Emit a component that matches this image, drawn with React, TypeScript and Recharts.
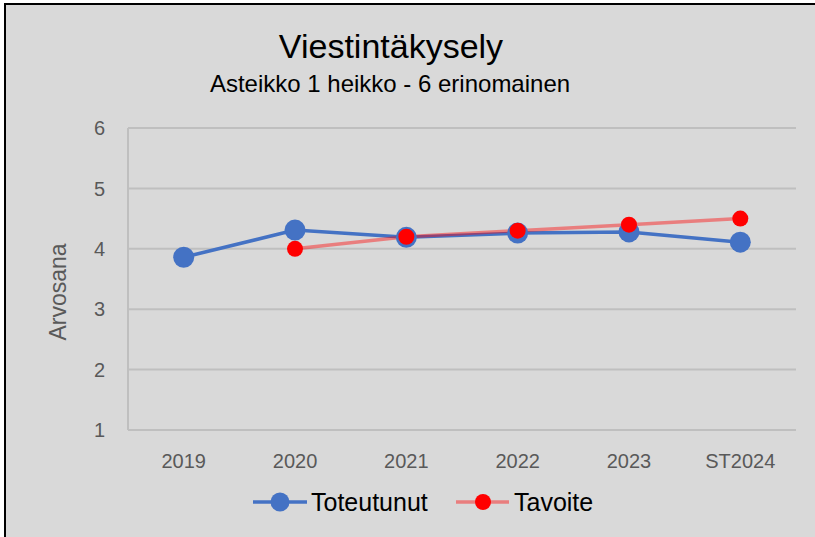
import React from 'react';
import { LineChart, Line, XAxis, YAxis, CartesianGrid, Legend } from 'recharts';

const categories = ['2019', '2020', '2021', '2022', '2023', 'ST2024'];
const toteutunut = [3.86, 4.31, 4.19, 4.26, 4.28, 4.11];
const tavoite: (number | null)[] = [null, 4.0, 4.2, 4.3, 4.4, 4.5];
const yTicks = [1, 2, 3, 4, 5, 6];

const data = categories.map((c, i) => ({ name: c, Toteutunut: toteutunut[i], Tavoite: tavoite[i] }));

const FONT = '"Liberation Sans", Arial, sans-serif';
const BLUE = '#4472C4';
const RED = '#FF0000';
const GRID = '#BFBFBF';
const TICK = '#595959';

const LegendContent = () => (
  <svg width={815} height={30} style={{ display: 'block' }}>
    <line x1={253} y1={14} x2={307} y2={14} stroke={BLUE} strokeWidth={3.5} />
    <circle cx={280} cy={14} r={9.5} fill={BLUE} />
    <text x={311} y={23} fontSize={25} fontFamily={FONT} fill="#000">Toteutunut</text>
    <line x1={456} y1={14} x2={509} y2={14} stroke={RED} strokeOpacity={0.42} strokeWidth={3.5} />
    <circle cx={483} cy={14} r={8} fill={RED} />
    <text x={514} y={23} fontSize={25} fontFamily={FONT} fill="#000">Tavoite</text>
  </svg>
);

export default function App() {
  return (
    <div style={{ position: 'absolute', left: 0, top: 0, width: 815, height: 537, background: '#fff', overflow: 'hidden' }}>
      <div
        style={{
          position: 'absolute',
          left: 4,
          top: 3,
          width: 820,
          height: 540,
          background: '#D9D9D9',
          borderLeft: '2px solid #000',
          borderTop: '2px solid #000',
        }}
      />
      <svg style={{ position: 'absolute', left: 0, top: 0 }} width={815} height={110}>
        <text x={391} y={58} textAnchor="middle" fontSize={34} fontFamily={FONT} fill="#000">Viestintäkysely</text>
        <text x={390} y={92} textAnchor="middle" fontSize={24} fontFamily={FONT} fill="#000">Asteikko 1 heikko - 6 erinomainen</text>
      </svg>
      <div style={{ position: 'absolute', left: 0, top: 0 }}>
        <LineChart width={815} height={537} data={data} margin={{ top: 128, right: 19, bottom: 77, left: 68 }}>
          <CartesianGrid vertical={false} stroke={GRID} strokeWidth={2} />
          <XAxis
            dataKey="name"
            padding={{ left: 55.7, right: 55.7 }}
            axisLine={{ stroke: GRID, strokeWidth: 2 }}
            tickLine={false}
            tickSize={0}
            tickMargin={24}
            tick={{ fill: TICK, fontSize: 20, fontFamily: FONT }}
          />
          <YAxis
            width={60}
            domain={[1, 6]}
            ticks={yTicks}
            axisLine={{ stroke: GRID, strokeWidth: 2 }}
            tickLine={false}
            tickSize={0}
            tickMargin={23}
            tick={{ fill: TICK, fontSize: 20, fontFamily: FONT }}
            label={{
              content: () => (
                <text
                  x={66}
                  y={292}
                  transform="rotate(-90 66 292)"
                  textAnchor="middle"
                  fontSize={23}
                  fontFamily={FONT}
                  fill={TICK}
                >
                  Arvosana
                </text>
              ),
            }}
          />
          <Legend
            layout="horizontal"
            verticalAlign="middle"
            content={() => <LegendContent />}
            wrapperStyle={{ position: 'absolute', top: 488, left: 0, width: 815, height: 30 }}
          />
          <Line
            type="linear"
            dataKey="Toteutunut"
            stroke={BLUE}
            strokeWidth={3.5}
            dot={{ r: 10.5, fill: BLUE, stroke: BLUE, strokeWidth: 0 }}
            activeDot={false}
            isAnimationActive={false}
          />
          <Line
            type="linear"
            dataKey="Tavoite"
            stroke={RED}
            strokeOpacity={0.42}
            strokeWidth={3.5}
            dot={{ r: 8, fill: RED, stroke: 'none', strokeOpacity: 1, fillOpacity: 1 }}
            activeDot={false}
            isAnimationActive={false}
          />
        </LineChart>
      </div>
    </div>
  );
}
